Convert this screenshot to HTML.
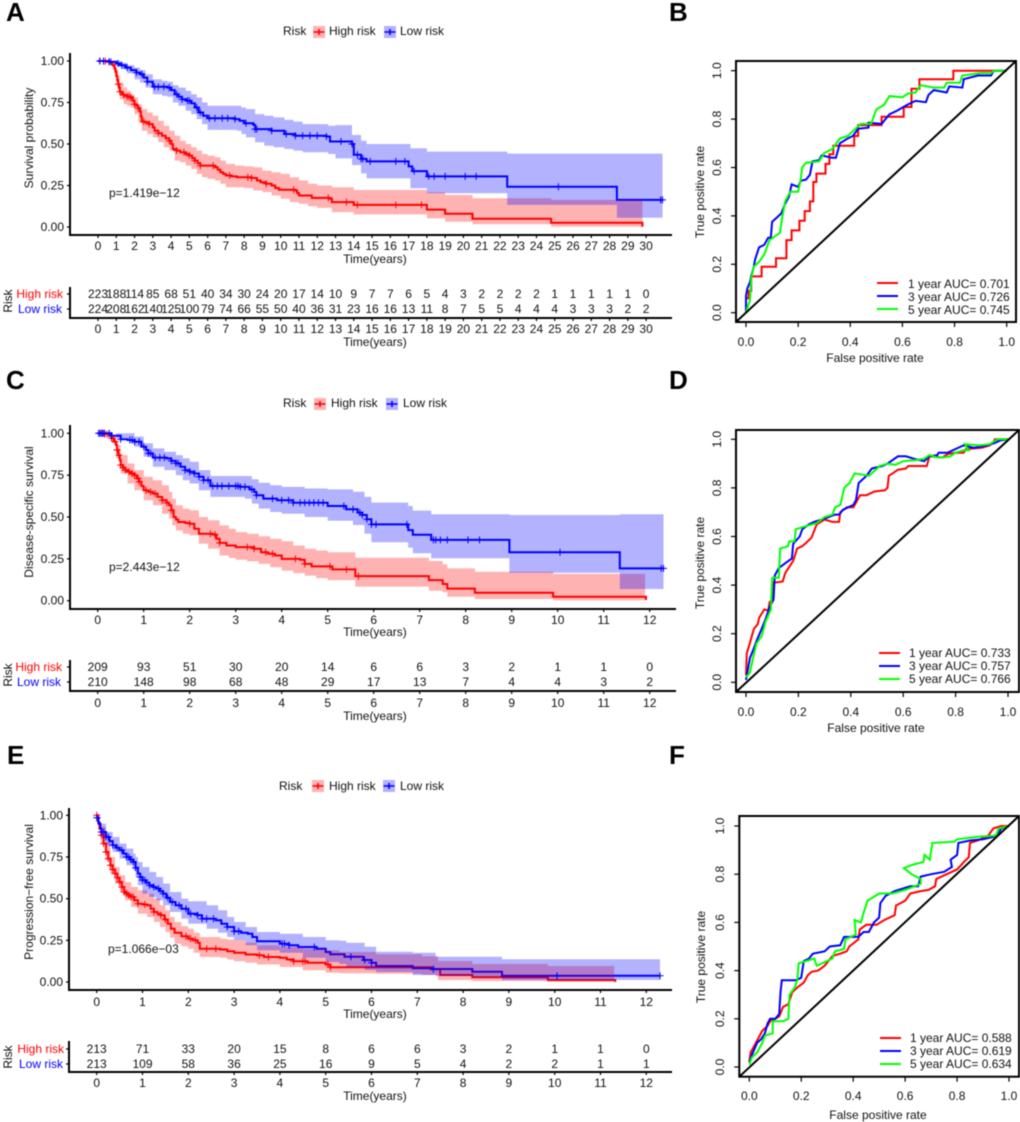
<!DOCTYPE html>
<html lang="en">
<head>
<meta charset="utf-8">
<title>Risk model survival and ROC panels</title>
<style>
html,body{margin:0;padding:0;background:#fff;}
#figure{display:block;width:1020px;height:1122px;filter:blur(0.4px);}
text{font-family:"Liberation Sans",Arial,sans-serif;font-size:12px;fill:#111;}
.letter{font-size:26px;font-weight:bold;fill:#000;}
.mid{text-anchor:middle;}
.axis{stroke:#000;stroke-width:2;fill:none;}
.box{stroke:#000;stroke-width:2;fill:none;}
</style>
</head>
<body>
<svg id="figure" xmlns="http://www.w3.org/2000/svg" width="1020" height="1122" viewBox="0 0 1020 1122">
<rect x="0" y="0" width="1020" height="1122" fill="#fff"/>

<!-- Panel A -->
<g id="panel-a"></g>
<g>
<text class="letter" x="6" y="21">A</text>
<text x="283" y="35">Risk</text>
<g>
<rect x="313" y="26" width="12" height="12" fill="#f00" fill-opacity=".3"/>
<path d="M313.5 32H324.5M319 29V35" stroke="#f00" stroke-width="1.6" fill="none"/>
<text x="329" y="35">High risk</text>
</g>
<g>
<rect x="384" y="26" width="12" height="12" fill="#00f" fill-opacity=".3"/>
<path d="M384.5 32H395.5M390 29V35" stroke="#00f" stroke-width="1.6" fill="none"/>
<text x="400" y="35">Low risk</text>
</g>
<text class="mid" transform="translate(33,138) rotate(-90)">Survival probability</text>
<text x="109" y="197">p=1.419e−12</text>
<text class="mid" x="375" y="263">Time(years)</text>
<text class="mid" transform="translate(12,301) rotate(-90)">Risk</text>
<text x="63" y="298" text-anchor="end" style="fill:#f00">High risk</text>
<text x="62" y="313" text-anchor="end" style="fill:#00f">Low risk</text>
<text class="mid" x="375" y="346">Time(years)</text>
</g>

<!-- Panel B -->
<g id="panel-b"></g>
<g>
<text class="letter" x="669" y="21">B</text>
<text class="mid" transform="translate(704,192) rotate(-90)">True positive rate</text>
<text class="mid" x="875" y="362">False positive rate</text>
<g>
<line x1="877" x2="898" y1="283" y2="283" stroke="#f00" stroke-width="2"/>
<line x1="877" x2="898" y1="296" y2="296" stroke="#00f" stroke-width="2"/>
<line x1="877" x2="898" y1="309" y2="309" stroke="#0f0" stroke-width="2"/>
<text x="908" y="288">1 year AUC= 0.701</text>
<text x="908" y="301">3 year AUC= 0.726</text>
<text x="908" y="314">5 year AUC= 0.745</text>
</g>
</g>

<!-- Panel C -->
<g id="panel-c"></g>
<g>
<text class="letter" x="6" y="389">C</text>
<text x="283" y="407">Risk</text>
<g>
<rect x="314" y="398" width="12" height="12" fill="#f00" fill-opacity=".3"/>
<path d="M314.5 404H325.5M320 401V407" stroke="#f00" stroke-width="1.6" fill="none"/>
<text x="331" y="407">High risk</text>
</g>
<g>
<rect x="386" y="398" width="12" height="12" fill="#00f" fill-opacity=".3"/>
<path d="M386.5 404H397.5M392 401V407" stroke="#00f" stroke-width="1.6" fill="none"/>
<text x="403" y="407">Low risk</text>
</g>
<text class="mid" transform="translate(33,512) rotate(-90)">Disease-specific survival</text>
<text x="109" y="571">p=2.443e−12</text>
<text class="mid" x="375" y="636">Time(years)</text>
<text class="mid" transform="translate(12,675) rotate(-90)">Risk</text>
<text x="62" y="671" text-anchor="end" style="fill:#f00">High risk</text>
<text x="61" y="686" text-anchor="end" style="fill:#00f">Low risk</text>
<text class="mid" x="375" y="720">Time(years)</text>
</g>

<!-- Panel D -->
<g id="panel-d"></g>
<g>
<text class="letter" x="669" y="389">D</text>
<text class="mid" transform="translate(704,563) rotate(-90)">True positive rate</text>
<text class="mid" x="876" y="732">False positive rate</text>
<g>
<line x1="879" x2="900" y1="653" y2="653" stroke="#f00" stroke-width="2"/>
<line x1="879" x2="900" y1="666" y2="666" stroke="#00f" stroke-width="2"/>
<line x1="879" x2="900" y1="679" y2="679" stroke="#0f0" stroke-width="2"/>
<text x="909" y="657">1 year AUC= 0.733</text>
<text x="909" y="670">3 year AUC= 0.757</text>
<text x="909" y="683">5 year AUC= 0.766</text>
</g>
</g>

<!-- Panel E -->
<g id="panel-e"></g>
<g>
<text class="letter" x="7" y="764">E</text>
<text x="279" y="790">Risk</text>
<g>
<rect x="312" y="780" width="12" height="12" fill="#f00" fill-opacity=".3"/>
<path d="M312.5 786H323.5M318 783V789" stroke="#f00" stroke-width="1.6" fill="none"/>
<text x="329" y="790">High risk</text>
</g>
<g>
<rect x="383" y="780" width="12" height="12" fill="#00f" fill-opacity=".3"/>
<path d="M383.5 786H394.5M389 783V789" stroke="#00f" stroke-width="1.6" fill="none"/>
<text x="400" y="790">Low risk</text>
</g>
<text class="mid" transform="translate(33,892) rotate(-90)">Progression−free survival</text>
<text x="108" y="953">p=1.066e−03</text>
<text class="mid" x="375" y="1018">Time(years)</text>
<text class="mid" transform="translate(12,1057) rotate(-90)">Risk</text>
<text x="64" y="1053" text-anchor="end" style="fill:#f00">High risk</text>
<text x="63" y="1068" text-anchor="end" style="fill:#00f">Low risk</text>
<text class="mid" x="375" y="1100">Time(years)</text>
</g>

<!-- Panel F -->
<g id="panel-f"></g>
<g>
<text class="letter" x="669" y="764">F</text>
<text class="mid" transform="translate(705,957) rotate(-90)">True positive rate</text>
<text class="mid" x="878" y="1119">False positive rate</text>
<g>
<line x1="880" x2="901" y1="1038" y2="1038" stroke="#f00" stroke-width="2"/>
<line x1="880" x2="901" y1="1051" y2="1051" stroke="#00f" stroke-width="2"/>
<line x1="880" x2="901" y1="1064" y2="1064" stroke="#0f0" stroke-width="2"/>
<text x="910" y="1042">1 year AUC= 0.588</text>
<text x="910" y="1055">3 year AUC= 0.619</text>
<text x="910" y="1068">5 year AUC= 0.634</text>
</g>
</g>
</svg>

<script>
// ---------- Panel A data ----------
const aYears = [0,1,2,3,4,5,6,7,8,9,10,11,12,13,14,15,16,17,18,19,20,21,22,23,24,25,26,27,28,29,30];
const aHighTime = [0,.3,.5,.7,.8, .9,.95,1,1.05,1.1, 1.15,1.2,1.3,1.4,1.6, 1.8,1.9,2,2.1,2.2, 2.3,2.35,2.4,2.6,2.8, 3,3.1,3.3,3.5,3.7, 3.9,4,4.1,4.3,4.5, 4.8,5,5.15,5.3,5.45, 5.6,6.4,6.55,6.7,6.85, 7,7.3,7.6,8.4,8.7, 8.9,9.2,9.5,9.7,9.9, 10.8,10.9,11,11.7,12.7, 12.8,14,18,19,20.5, 24.8,29.75,29.8];
const aHighSurv = [1,.998,.995,.985,.975, .955,.935,.91,.885,.86, .84,.815,.80,.795,.785, .78,.76,.74,.73,.715, .695,.665,.635,.63,.62, .60,.58,.565,.55,.535, .52,.50,.47,.46,.45, .44,.43,.415,.40,.385, .37,.36,.345,.33,.32, .31,.305,.30,.295,.28, .27,.26,.25,.235,.225, .22,.205,.19,.175,.17, .15,.133,.105,.08,.05, .026,.026,.002];
const aLowTime = [0,.6,1,1.2,1.5, 1.8,2.1,2.3,2.5,2.7, 3,3.8,4,4.2,4.4, 4.6,4.85,5.1,5.3,5.5, 5.75,6,7.5,7.75,8, 8.5,8.6,9.5,10.2,10.8, 12.5,12.7,13.9,14,14.4, 14.7,17,17.2,18,22.4, 28.4,30.9];
const aLowSurv = [1,.995,.985,.975,.96, .945,.93,.92,.90,.875, .845,.84,.825,.80,.785, .77,.76,.745,.72,.69, .67,.655,.65,.64,.625, .615,.59,.58,.56,.55, .545,.515,.50,.435,.41, .395,.365,.337,.305,.243, .163,.163];
const aHighBandTime = [0,.8,.9,1,1.1, 1.2,1.4,1.6,1.8,2, 2.2,2.4,2.7,3,3.3, 3.6,3.9,4.2,4.5,4.8, 5.1,5.4,5.7,6,6.4, 6.7,7,7.5,8,8.5, 9,9.5,10,10.5,11, 11.5,12,12.8,14,18, 19,20.5,24.8,29.8];
const aHighUpper = [1,1,.98,.95,.91, .87,.84,.82,.80,.78, .74,.71,.69,.67,.64, .61,.58,.55,.52,.50, .48,.46,.44,.43,.42, .40,.38,.37,.365,.36, .34,.33,.32,.30,.28, .26,.25,.24,.223,.209, .193,.173,.163,.163];
const aHighLower = [1,.96,.93,.87,.82, .77,.74,.73,.72,.68, .63,.58,.56,.54,.51, .48,.46,.40,.39,.37, .35,.32,.30,.29,.28, .26,.24,.24,.235,.22, .21,.19,.17,.15,.14, .125,.115,.09,.076,.052, .032,.016,.002,.002];
const aLowBandTime = [0,.6,1,1.3,1.6, 2,2.3,2.6,3,3.5, 3.8,4.1,4.4,4.8,5.1, 5.4,5.7,6,7.6,7.85, 8.1,8.6,9.1,9.6,10.2, 10.7,11.2,12.6,13,13.9, 14.4,14.7,16.9,17.1,18, 22.4,28.4,30.9];
const aLowUpper = [1,1,1,.99,.975, .96,.945,.92,.89,.88, .875,.855,.84,.82,.80, .78,.75,.73,.73,.72, .71,.68,.67,.66,.645, .635,.62,.61,.614,.554, .52,.50,.50,.474,.454, .442,.442,.442];
const aLowLower = [1,.99,.97,.95,.925, .89,.87,.84,.80,.79, .785,.75,.73,.70,.68, .65,.62,.585,.58,.56, .54,.51,.49,.48,.47, .46,.45,.44,.413,.373, .323,.293,.293,.233,.203, .133,.056,.056];
const aHighCensor = [0.1,0.3,0.4,0.6,1.1,1.2,1.4,1.6,1.7,1.8,2.0,2.2,2.5,2.8,3.3,3.9,4.3,4.7,5.0,5.3,5.6,6.3,7.2,8.2,8.4,9.2,10.7,12.6,13.6,14.2,16.3,17.7];
const aLowCensor = [0.1,0.3,0.6,0.7,1.1,1.3,1.6,2.1,2.4,2.7,3.1,3.3,3.6,3.9,4.3,4.6,4.9,5.0,5.4,5.6,6.1,6.4,6.8,7.1,7.5,8.1,8.6,8.7,9.5,10.3,10.8,11.2,11.6,12,12.5,13.3,13.9,14.2,14.4,14.5,14.9,16.3,16.8,17.3,18.1,18.4,19,20.1,20.7,25.2,30.8,30.9];
const aHighAtRisk = [223,188,114,85,68,51,40,34,30,24,20,17,14,10,9,7,7,6,5,4,3,2,2,2,2,1,1,1,1,1,0];
const aLowAtRisk = [224,208,162,140,125,100,79,74,66,55,50,40,36,31,23,16,16,13,11,8,7,5,5,4,4,4,3,3,3,2,2];

// ---------- Panel C data ----------
const cYears = [0,1,2,3,4,5,6,7,8,9,10,11,12];
const cHighTime = [0,.15,.25,.3,.35, .4,.42,.45,.48,.5, .55,.6,.65,.72,.8, .85,.9,.95,1,1.1, 1.2,1.3,1.4,1.5,1.55, 1.6,1.65,1.7,1.75,1.9, 2,2.1,2.2,2.5,2.58, 2.65,2.8,3,3.4,3.55, 3.7,3.85,4,4.4,4.5, 4.65,5.05,5.1,5.6,7.2, 7.5,7.6,8.2,9.9,11.9, 11.92];
const cHighSurv = [1,.995,.985,.97,.95, .93,.90,.87,.84,.81, .795,.78,.77,.76,.75, .73,.71,.685,.66,.65, .64,.62,.60,.585,.57, .54,.50,.485,.47,.465, .46,.43,.40,.395,.37, .345,.33,.32,.31,.29, .28,.27,.25,.245,.22, .205,.205,.187,.147,.123, .10,.072,.048,.024,.024, .004];
const cLowTime = [0,.3,.5,.65,.8, .95,1.05,1.1,1.2,1.5, 1.6,1.7,1.8,1.9,2, 2.1,2.2,2.3,2.45,3.1, 3.3,3.4,3.45,3.6,3.9, 4.25,5,5.4,5.65,5.75, 5.85,5.95,6.75,6.85,7.25, 8.95,11.35,12.3];
const cLowSurv = [1,.985,.965,.96,.95, .92,.90,.88,.855,.85, .835,.82,.80,.78,.77, .76,.74,.72,.685,.68, .665,.65,.63,.61,.60, .585,.566,.546,.526,.512, .486,.456,.422,.394,.363, .289,.193,.193];
const cHighBandTime = [0,.3,.4,.5,.65, .8,1,1.2,1.4,1.55, 1.62,1.7,1.85,2,2.2, 2.4,2.65,2.85,3,3.25, 3.5,3.75,4,4.25,4.5, 4.75,5,5.6,7.2,7.5, 7.6,8.2,9.9,11.9];
const cHighUpper = [1,.99,.93,.87,.82, .78,.74,.72,.69,.65, .61,.57,.55,.54,.50, .48,.45,.43,.41,.40, .385,.37,.355,.33,.31, .30,.29,.257,.237,.217, .193,.173,.16,.16];
const cHighLower = [1,.95,.85,.76,.70, .66,.60,.57,.52,.49, .45,.42,.40,.39,.34, .31,.27,.255,.245,.235, .22,.20,.18,.165,.15, .135,.123,.084,.06,.05, .024,.01,.002,.002];
const cLowBandTime = [0,.4,.8,1,1.2, 1.45,1.7,1.85,2,2.2, 2.45,3.2,3.35,3.5,3.75, 4,4.5,5,5.55,5.8, 5.95,6.75,6.85,7.25,8.95, 11.35,12.3];
const cLowUpper = [1,1,.98,.94,.91, .89,.87,.85,.83,.78, .745,.745,.725,.705,.69, .68,.67,.665,.651,.62, .586,.566,.538,.516,.512, .516,.516];
const cLowLower = [1,.97,.92,.86,.80, .78,.75,.72,.70,.66, .62,.61,.58,.55,.53, .52,.50,.478,.452,.40, .349,.317,.283,.253,.167, .07,.07];
const cHighCensor = [0.05,0.1,0.15,0.2,0.3,0.38,0.42,0.46,0.5,0.55,0.6,0.68,0.75,0.8,0.88,0.9,1.05,1.15,1.25,1.4,1.5,1.6,2,2.45,2.55,2.65,3.25,3.4,3.65,3.8,4.3,4.5,5.05,5.41,5.67];
const cLowCensor = [0.02,0.05,0.08,0.12,0.15,0.25,0.3,0.5,0.7,0.75,0.8,0.9,1,1.1,1.15,1.25,1.35,1.45,1.6,1.7,1.75,1.9,2,2.1,2.2,2.3,2.4,2.5,2.6,2.7,2.85,3,3.05,3.1,3.2,3.35,3.45,3.8,4,4.15,4.25,4.4,4.5,4.6,4.7,4.8,4.9,5.35,5.55,5.7,5.75,5.85,5.95,6.05,6.72,7.3,7.35,7.45,7.6,8.05,8.3,10.05,12.25,12.3];
const cHighAtRisk = [209,93,51,30,20,14,6,6,3,2,1,1,0];
const cLowAtRisk = [210,148,98,68,48,29,17,13,7,4,4,3,2];

// ---------- Panel E data ----------
const eYears = [0,1,2,3,4,5,6,7,8,9,10,11,12];
const eHighTime = [0,.03,.06,.1,.15, .2,.25,.3,.35,.4, .45,.5,.55,.6,.65, .7,.75,.82,.9,1, 1.1,1.18,1.25,1.33,1.4, 1.48,1.55,1.62,1.7,1.85, 2,2.1,2.2,2.25,2.7, 2.85,3,3.25,3.5,3.65, 4,4.15,4.3,4.6,5, 5.1,7.3,7.5,8.2,9.85, 11.3,11.32];
const eHighSurv = [1,.96,.92,.88,.83, .78,.74,.70,.675,.65, .625,.60,.57,.54,.53, .52,.51,.49,.47,.465, .46,.44,.42,.41,.40, .375,.35,.32,.295,.275, .26,.25,.235,.20,.195, .185,.175,.165,.16,.15, .145,.135,.125,.115,.105, .088,.076,.042,.028,.012, .012,0];
const eLowTime = [0,.04,.08,.1,.2, .28,.35,.42,.5,.58, .65,.72,.8,.85,.9, .95,1,1.08,1.15,1.22, 1.3,1.38,1.45,1.52,1.6, 1.72,1.85,2,2.2,2.3, 2.6,2.72,2.85,3,3.15, 3.3,3.4,3.5,4,4.2, 4.4,4.8,5,5.1,5.41, 5.82,6,6.1,6.9,7.35, 8.2,8.85,12.3];
const eLowSurv = [.985,.95,.92,.90,.87, .845,.82,.805,.79,.77, .75,.735,.72,.685,.65, .63,.61,.595,.58,.57, .56,.545,.53,.505,.48, .46,.44,.41,.40,.38, .37,.35,.33,.305,.295, .29,.27,.245,.23,.22, .21,.20,.18,.166,.152, .132,.116,.096,.082,.078, .062,.038,.038];
const eHighBandTime = [0,.1,.2,.3,.4, .5,.62,.75,.9,1.1, 1.25,1.38,1.5,1.6,1.7, 1.85,2,2.12,2.25,2.7, 2.85,3,3.25,3.5,4, 4.5,5,5.3,6.1,7.1, 7.45,8.2,9.85,11.3];
const eHighUpper = [1,.93,.84,.75,.69, .64,.60,.57,.55,.53, .50,.46,.43,.39,.36, .335,.32,.295,.27,.26, .255,.25,.235,.22,.21, .20,.19,.18,.166,.155, .126,.108,.096,.096];
const eHighLower = [1,.83,.73,.65,.59, .54,.49,.45,.41,.39, .36,.33,.30,.265,.23, .215,.20,.175,.15,.145, .135,.125,.115,.105,.09, .07,.055,.052,.05,.042, .012,.006,.002,.002];
const eLowBandTime = [0,.1,.2,.35,.5, .65,.8,.85,.9,1, 1.15,1.3,1.45,1.6,1.85, 2,2.4,2.65,2.85,3, 3.25,3.5,4,4.5,5, 5.3,5.45,5.85,6.1,6.9, 7.4,8.2,8.85,12.3];
const eLowUpper = [.99,.95,.90,.87,.83, .80,.77,.75,.72,.69, .66,.63,.59,.54,.50, .485,.46,.43,.39,.36, .33,.30,.29,.27,.25, .248,.236,.212,.182,.176, .152,.152,.136,.136];
const eLowLower = [.98,.88,.82,.78,.74, .70,.67,.63,.58,.53, .51,.49,.46,.42,.38, .35,.32,.295,.27,.25, .22,.19,.175,.145,.12, .108,.09,.072,.06,.042, .036,.028,.012,.012];
const eHighCensor = [0,0.1,0.15,0.2,0.25,0.3,0.35,0.4,0.45,0.5,0.55,0.6,0.65,0.7,0.75,0.8,0.9,1.05,1.25,1.4,1.5,1.95,2.05,2.15,2.4,2.6,3.55,3.75,4.3,4.5,4.55,5.05,5.1];
const eLowCensor = [0,0.1,0.15,0.2,0.25,0.35,0.45,0.55,0.65,0.7,0.75,0.8,0.85,0.95,1,1.05,1.15,1.25,1.35,1.45,1.55,1.65,1.8,1.95,2.05,2.2,2.3,2.4,2.55,2.85,3,3.1,4.05,4.1,4.2,4.75,5.55,5.85,6.0,7.35,10.05,12.3];
const eHighAtRisk = [213,71,33,20,15,8,6,6,3,2,1,1,0];
const eLowAtRisk = [213,109,58,36,25,16,9,5,4,2,2,1,1];

const survivalTicks = [0,0.25,0.5,0.75,1];
const survivalTickLabels = ["0.00","0.25","0.50","0.75","1.00"];
const rocTicks = [0,0.2,0.4,0.6,0.8,1];
const rocTickLabels = ["0.0","0.2","0.4","0.6","0.8","1.0"];

// ---------- ROC data (false positive rate / true positive rate) ----------
const bRed1Fpr = [0,0,0.01,0.02,0.06,0.115,0.155,0.175,0.205,0.225,0.245,0.258,0.27,0.305,0.32,0.335,0.415,0.43,0.52,0.605,0.635,0.665,0.795,1];
const bRed1Tpr = [0,0.06,0.09,0.15,0.19,0.225,0.30,0.34,0.38,0.42,0.46,0.54,0.575,0.615,0.655,0.69,0.73,0.775,0.81,0.85,0.925,0.965,1.0,1];
const bBlue3Fpr = [0,0,0.005,0.015,0.02,0.03,0.035,0.05,0.07,0.085,0.095,0.1,0.12,0.135,0.15,0.165,0.175,0.2,0.21,0.23,0.245,0.255,0.28,0.29,0.33,0.345,0.36,0.39,0.41,0.43,0.47,0.47,0.52,0.55,0.58,0.62,0.65,0.69,0.7,0.72,0.77,0.78,0.83,0.835,0.89,0.94,0.95,1];
const bBlue3Tpr = [0,0.07,0.1,0.125,0.15,0.19,0.22,0.27,0.28,0.31,0.31,0.375,0.395,0.41,0.45,0.48,0.53,0.52,0.545,0.55,0.57,0.625,0.63,0.65,0.64,0.64,0.70,0.72,0.73,0.76,0.765,0.785,0.78,0.82,0.835,0.86,0.875,0.87,0.9,0.92,0.91,0.935,0.93,0.965,0.98,0.98,1,1];
const bGreen5Fpr = [0,0.005,0.015,0.02,0.03,0.05,0.07,0.09,0.13,0.14,0.15,0.17,0.2,0.21,0.215,0.23,0.28,0.3,0.33,0.36,0.39,0.41,0.44,0.48,0.49,0.5,0.53,0.55,0.6,0.62,0.65,0.67,0.72,0.76,0.77,0.82,0.83,0.9,0.94,0.95,1];
const bGreen5Tpr = [0,0.02,0.05,0.14,0.19,0.21,0.24,0.3,0.33,0.4,0.46,0.5,0.5,0.55,0.6,0.62,0.625,0.66,0.675,0.72,0.73,0.75,0.78,0.78,0.81,0.84,0.86,0.895,0.89,0.905,0.91,0.94,0.93,0.93,0.95,0.95,0.98,0.99,0.99,1,1];
const dRed1Fpr = [0,0.003,0.012,0.022,0.03,0.045,0.05,0.07,0.085,0.09,0.1,0.105,0.14,0.15,0.165,0.18,0.195,0.215,0.23,0.25,0.27,0.3,0.33,0.355,0.36,0.385,0.41,0.425,0.435,0.46,0.49,0.53,0.54,0.545,0.56,0.58,0.61,0.62,0.69,0.7,0.75,0.77,0.8,0.83,0.84,0.9,0.93,0.945,0.95,0.99,1];
const dRed1Tpr = [0.03,0.12,0.15,0.19,0.22,0.24,0.265,0.3,0.295,0.33,0.34,0.41,0.415,0.45,0.475,0.5,0.55,0.56,0.575,0.595,0.65,0.67,0.66,0.66,0.7,0.72,0.72,0.75,0.77,0.77,0.785,0.79,0.8,0.85,0.86,0.875,0.88,0.89,0.89,0.93,0.925,0.94,0.945,0.945,0.96,0.965,0.975,0.99,1,1,1];
const dBlue3Fpr = [0,0.015,0.03,0.04,0.06,0.075,0.09,0.105,0.11,0.125,0.15,0.175,0.18,0.205,0.215,0.24,0.26,0.29,0.34,0.355,0.37,0.41,0.42,0.43,0.46,0.48,0.52,0.54,0.58,0.61,0.64,0.68,0.7,0.73,0.735,0.77,0.8,0.83,0.87,0.92,0.95,0.97,1];
const dBlue3Tpr = [0.01,0.1,0.14,0.17,0.22,0.26,0.31,0.34,0.44,0.47,0.49,0.51,0.57,0.6,0.63,0.65,0.66,0.67,0.69,0.69,0.71,0.73,0.75,0.82,0.85,0.88,0.89,0.9,0.93,0.93,0.92,0.91,0.93,0.935,0.945,0.945,0.96,0.975,0.965,0.975,0.985,0.995,1];
const dGreen5Fpr = [0,0.015,0.025,0.04,0.06,0.075,0.095,0.1,0.125,0.13,0.16,0.165,0.185,0.19,0.22,0.27,0.3,0.33,0.34,0.36,0.375,0.395,0.415,0.47,0.49,0.51,0.54,0.57,0.6,0.65,0.68,0.7,0.73,0.75,0.78,0.8,0.83,0.85,0.835,0.89,0.93,0.96,1];
const dGreen5Tpr = [0.02,0.04,0.09,0.16,0.19,0.25,0.3,0.43,0.43,0.55,0.56,0.58,0.58,0.63,0.64,0.655,0.68,0.69,0.72,0.73,0.8,0.82,0.86,0.85,0.87,0.89,0.9,0.895,0.91,0.915,0.92,0.935,0.925,0.925,0.93,0.945,0.955,0.955,0.98,0.975,0.98,1,1];
const fRed1Fpr = [0,0.005,0.02,0.035,0.05,0.07,0.08,0.1,0.115,0.13,0.15,0.165,0.185,0.21,0.225,0.24,0.265,0.29,0.32,0.35,0.375,0.385,0.42,0.425,0.45,0.49,0.52,0.56,0.565,0.6,0.62,0.66,0.69,0.715,0.72,0.76,0.78,0.8,0.83,0.845,0.85,0.88,0.92,0.94,0.97,1];
const fRed1Tpr = [0.02,0.06,0.09,0.12,0.15,0.17,0.19,0.2,0.21,0.25,0.26,0.31,0.33,0.35,0.38,0.395,0.4,0.42,0.46,0.47,0.48,0.5,0.53,0.57,0.59,0.59,0.61,0.63,0.67,0.69,0.72,0.73,0.735,0.75,0.78,0.8,0.81,0.82,0.855,0.87,0.93,0.94,0.96,0.99,1,1];
const fBlue3Fpr = [0,0.01,0.03,0.045,0.06,0.07,0.08,0.1,0.115,0.12,0.125,0.18,0.2,0.21,0.23,0.245,0.29,0.31,0.35,0.365,0.42,0.44,0.46,0.48,0.5,0.505,0.525,0.56,0.62,0.65,0.66,0.7,0.75,0.78,0.775,0.8,0.805,0.85,0.9,0.94,0.96,0.97,1];
const fBlue3Tpr = [0.02,0.05,0.1,0.115,0.14,0.18,0.2,0.2,0.22,0.31,0.36,0.36,0.37,0.44,0.45,0.47,0.48,0.5,0.505,0.54,0.54,0.56,0.56,0.6,0.62,0.68,0.71,0.73,0.75,0.75,0.79,0.8,0.81,0.83,0.86,0.88,0.93,0.94,0.945,0.955,0.97,0.99,1];
const fGreen5Fpr = [0,0.01,0.03,0.05,0.06,0.09,0.09,0.13,0.15,0.155,0.175,0.185,0.19,0.25,0.26,0.32,0.33,0.365,0.37,0.41,0.405,0.43,0.44,0.455,0.5,0.55,0.6,0.66,0.66,0.625,0.595,0.63,0.67,0.675,0.695,0.705,0.79,0.8,0.88,0.95,0.96,1];
const fGreen5Tpr = [0.01,0.04,0.06,0.1,0.13,0.14,0.19,0.19,0.2,0.3,0.33,0.36,0.43,0.45,0.42,0.45,0.48,0.49,0.53,0.55,0.61,0.6,0.64,0.69,0.72,0.72,0.735,0.76,0.78,0.8,0.825,0.84,0.85,0.88,0.86,0.93,0.935,0.945,0.955,0.96,0.99,1];

const SVG_NS = "http://www.w3.org/2000/svg";
function make(parent, tag, attrs, text) {
  const el = document.createElementNS(SVG_NS, tag);
  for (const key in attrs) el.setAttribute(key, attrs[key]);
  if (text !== undefined) el.textContent = text;
  parent.appendChild(el);
  return el;
}
function stepPath(ts, vs, xf, yf) {
  let d = "M" + xf(ts[0]).toFixed(1) + " " + yf(vs[0]).toFixed(1);
  for (let i = 1; i < ts.length; i++) {
    d += "H" + xf(ts[i]).toFixed(1) + "V" + yf(vs[i]).toFixed(1);
  }
  return d;
}
function bandPath(ts, up, lo, xf, yf) {
  const n = ts.length;
  let d = "M" + xf(ts[0]).toFixed(1) + " " + yf(up[0]).toFixed(1);
  for (let i = 1; i < n - 1; i++) {
    d += "H" + xf(ts[i]).toFixed(1) + "V" + yf(up[i]).toFixed(1);
  }
  d += "H" + xf(ts[n - 1]).toFixed(1) + "V" + yf(lo[n - 2]).toFixed(1);
  for (let i = n - 2; i >= 1; i--) {
    d += "H" + xf(ts[i]).toFixed(1) + "V" + yf(lo[i - 1]).toFixed(1);
  }
  d += "H" + xf(ts[0]).toFixed(1) + "Z";
  return d;
}
function survivalAt(ts, vs, t) {
  let v = vs[0];
  for (let i = 0; i < ts.length; i++) { if (ts[i] <= t) v = vs[i]; }
  return v;
}
function tickLine(parent, x1, y1, x2, y2) {
  const el = make(parent, "line", {x1: x1, y1: y1, x2: x2, y2: y2, stroke: "#000", "stroke-width": 1.2});
  
  
}
function drawSeries(g, s, xf, yf) {
  const line = make(g, "path", {d: stepPath(s.time, s.surv, xf, yf), fill: "none", stroke: s.color, "stroke-width": 2});
  
  
}
function drawBand(g, s, xf, yf) {
  const band = make(g, "path", {d: bandPath(s.bandTime, s.upper, s.lower, xf, yf), fill: s.color, "fill-opacity": 0.3, stroke: "none"});
  
  
}
function drawCensor(g, s, xf, yf) {
  s.censor.forEach(function (t) {
    const cx = xf(t), cy = yf(survivalAt(s.time, s.surv, t));
    const mark = make(g, "path", {d: "M" + (cx - 3.5).toFixed(1) + " " + cy.toFixed(1) + "h7M" + cx.toFixed(1) + " " + (cy - 3.5).toFixed(1) + "v7", stroke: s.color, "stroke-width": 1, fill: "none"});
    
    
  });
}
function drawKM(p) {
  const g = document.getElementById(p.id);
  const xf = function (t) { return p.x0 + t * p.pxPerYear; };
  const yf = function (v) { return p.y0 - v * p.pxPerUnit; };
  drawSeries(g, p.high, xf, yf);
  drawSeries(g, p.low, xf, yf);
  drawBand(g, p.high, xf, yf);
  drawBand(g, p.low, xf, yf);
  drawCensor(g, p.high, xf, yf);
  drawCensor(g, p.low, xf, yf);

  const yAxis = make(g, "path", {d: "M" + p.axisX + " " + p.axisTop + "V" + p.axisBottom + "H" + p.axisRight, class: "axis"});
  
  
  survivalTicks.forEach(function (v, i) {
    tickLine(g, p.axisX - 3, yf(v), p.axisX, yf(v));
    const lab = make(g, "text", {x: p.axisX - 6, y: yf(v), "text-anchor": "end", "dominant-baseline": "central"}, survivalTickLabels[i]);
    
    
  });
  p.years.forEach(function (yr) {
    tickLine(g, xf(yr), p.axisBottom, xf(yr), p.axisBottom + 3);
    const lab = make(g, "text", {x: xf(yr), y: p.tickY, "text-anchor": "middle", "dominant-baseline": "central"}, String(yr));
    
    
  });

  const tableAxis = make(g, "path", {d: "M" + p.axisX + " " + p.tableTop + "V" + p.tableBottom + "H" + p.axisRight, class: "axis"});
  
  
  tickLine(g, p.axisX - 3, p.rowHigh, p.axisX, p.rowHigh);
  tickLine(g, p.axisX - 3, p.rowLow, p.axisX, p.rowLow);
  p.years.forEach(function (yr, i) {
    tickLine(g, xf(yr), p.tableBottom, xf(yr), p.tableBottom + 3);
    const lab = make(g, "text", {x: xf(yr), y: p.tableTickY, "text-anchor": "middle", "dominant-baseline": "central"}, String(yr));
    
    
    const hi = make(g, "text", {x: xf(yr), y: p.rowHigh, "text-anchor": "middle", "dominant-baseline": "central"}, String(p.highAtRisk[i]));
    
    
    const lo = make(g, "text", {x: xf(yr), y: p.rowLow, "text-anchor": "middle", "dominant-baseline": "central"}, String(p.lowAtRisk[i]));
    
    
  });
}
function drawROC(p) {
  const g = document.getElementById(p.id);
  const xf = function (v) { return p.x0 + v * (p.x1 - p.x0); };
  const yf = function (v) { return p.y0 - v * (p.y0 - p.y1); };
  p.curves.forEach(function (c) {
    let d = "";
    if (c.step) {
      d = stepPath(c.fpr, c.tpr, xf, yf);
    } else {
      c.fpr.forEach(function (f, i) { d += (i ? "L" : "M") + xf(f).toFixed(1) + " " + yf(c.tpr[i]).toFixed(1); });
    }
    const line = make(g, "path", {d: d, fill: "none", stroke: c.color, "stroke-width": 2, "stroke-linejoin": "miter"});
    
    
  });
  const diag = make(g, "line", {x1: p.left, y1: p.bottom, x2: p.right, y2: p.top, stroke: "#000", "stroke-width": 2});
  
  
  const box = make(g, "rect", {x: p.left, y: p.top, width: p.right - p.left, height: p.bottom - p.top, class: "box"});
  
  
  rocTicks.forEach(function (v, i) {
    tickLine(g, xf(v), p.bottom, xf(v), p.bottom + 5);
    tickLine(g, p.left - 5, yf(v), p.left, yf(v));
    const xl = make(g, "text", {x: xf(v), y: p.xTickY, "text-anchor": "middle", "dominant-baseline": "central"}, rocTickLabels[i]);
    
    
    const yl = make(g, "text", {transform: "translate(" + p.yTickX + "," + yf(v) + ") rotate(-90)", "text-anchor": "middle", "dominant-baseline": "central"}, rocTickLabels[i]);
    
    
  });
}

drawKM({id: "panel-a", x0: 98, pxPerYear: 18.27, y0: 227, pxPerUnit: 166, axisX: 70, axisTop: 53, axisBottom: 235, axisRight: 672, tickY: 246, tableTop: 287, tableBottom: 318, rowHigh: 294, rowLow: 309, tableTickY: 329, years: aYears, highAtRisk: aHighAtRisk, lowAtRisk: aLowAtRisk,
  high: {name: "high-risk", color: "#f00", time: aHighTime, surv: aHighSurv, bandTime: aHighBandTime, upper: aHighUpper, lower: aHighLower, censor: aHighCensor},
  low: {name: "low-risk", color: "#00f", time: aLowTime, surv: aLowSurv, bandTime: aLowBandTime, upper: aLowUpper, lower: aLowLower, censor: aLowCensor}});
drawKM({id: "panel-c", x0: 97.7, pxPerYear: 46, y0: 600.7, pxPerUnit: 167.4, axisX: 70, axisTop: 425, axisBottom: 609, axisRight: 676, tickY: 620, tableTop: 660, tableBottom: 691, rowHigh: 667, rowLow: 682, tableTickY: 703, years: cYears, highAtRisk: cHighAtRisk, lowAtRisk: cLowAtRisk,
  high: {name: "high-risk", color: "#f00", time: cHighTime, surv: cHighSurv, bandTime: cHighBandTime, upper: cHighUpper, lower: cHighLower, censor: cHighCensor},
  low: {name: "low-risk", color: "#00f", time: cLowTime, surv: cLowSurv, bandTime: cLowBandTime, upper: cLowUpper, lower: cLowLower, censor: cLowCensor}});
drawKM({id: "panel-e", x0: 96.7, pxPerYear: 45.8, y0: 982, pxPerUnit: 166.7, axisX: 69, axisTop: 808, axisBottom: 990, axisRight: 672, tickY: 1002, tableTop: 1041, tableBottom: 1072, rowHigh: 1049, rowLow: 1064, tableTickY: 1083, years: eYears, highAtRisk: eHighAtRisk, lowAtRisk: eLowAtRisk,
  high: {name: "high-risk", color: "#f00", time: eHighTime, surv: eHighSurv, bandTime: eHighBandTime, upper: eHighUpper, lower: eHighLower, censor: eHighCensor},
  low: {name: "low-risk", color: "#00f", time: eLowTime, surv: eLowSurv, bandTime: eLowBandTime, upper: eLowUpper, lower: eLowLower, censor: eLowCensor}});

drawROC({id: "panel-b", x0: 746, x1: 1006.7, y0: 312.7, y1: 70.7, left: 736, right: 1016, top: 61, bottom: 322, xTickY: 342, yTickX: 717, curves: [
  {name: "roc-curve-1-year", color: "#f00", fpr: bRed1Fpr, tpr: bRed1Tpr, step: true},
  {name: "roc-curve-3-year", color: "#00f", fpr: bBlue3Fpr, tpr: bBlue3Tpr},
  {name: "roc-curve-5-year", color: "#0f0", fpr: bGreen5Fpr, tpr: bGreen5Tpr}]});
drawROC({id: "panel-d", x0: 746, x1: 1008, y0: 682.3, y1: 439.3, left: 736, right: 1019, top: 430, bottom: 692, xTickY: 712, yTickX: 717, curves: [
  {name: "roc-curve-1-year", color: "#f00", fpr: dRed1Fpr, tpr: dRed1Tpr},
  {name: "roc-curve-3-year", color: "#00f", fpr: dBlue3Fpr, tpr: dBlue3Tpr},
  {name: "roc-curve-5-year", color: "#0f0", fpr: dGreen5Fpr, tpr: dGreen5Tpr}]});
drawROC({id: "panel-f", x0: 749.3, x1: 1009, y0: 1067, y1: 826, left: 739.3, right: 1019, top: 816, bottom: 1076.7, xTickY: 1096, yTickX: 720, curves: [
  {name: "roc-curve-1-year", color: "#f00", fpr: fRed1Fpr, tpr: fRed1Tpr},
  {name: "roc-curve-3-year", color: "#00f", fpr: fBlue3Fpr, tpr: fBlue3Tpr},
  {name: "roc-curve-5-year", color: "#0f0", fpr: fGreen5Fpr, tpr: fGreen5Tpr}]});
</script>
</body>
</html>
